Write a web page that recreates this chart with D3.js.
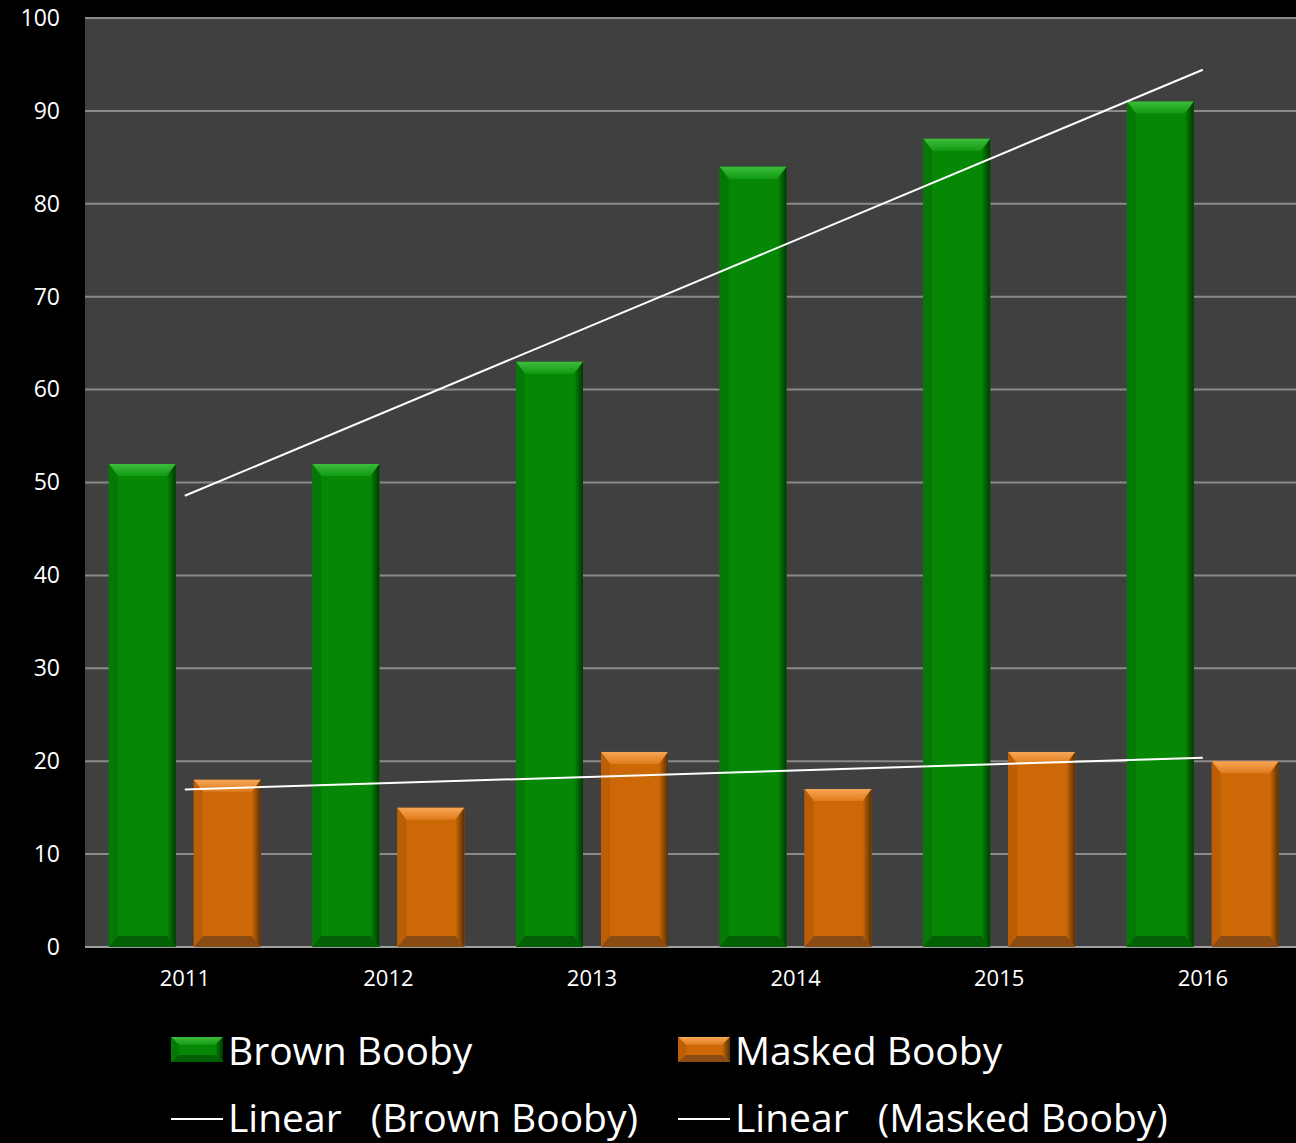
<!DOCTYPE html>
<html>
<head>
<meta charset="utf-8">
<script src="https://cdn.jsdelivr.net/npm/d3@7"></script>
<style>
  body { margin: 0; background: #000; overflow: hidden; }
  svg { display: block; }
</style>
</head>
<body>
<div id="chart"></div>
<script>
var width  = 1296;
var height = 1143;

// data
var years   = ["2011", "2012", "2013", "2014", "2015", "2016"];
var series  = ["Brown Booby", "Masked Booby"];
var brown   = [52, 52, 63, 84, 87, 91];
var masked  = [18, 15, 21, 17, 21, 20];
var yTicks  = [0, 10, 20, 30, 40, 50, 60, 70, 80, 90, 100];

var palette = {
  "Brown Booby":  { main: "#068806", top: "#3dbb3d", top2: "#129c12", left: "#057805", right: "#013801", bottom: "#046004" },
  "Masked Booby": { main: "#cd6806", top: "#f8a656", top2: "#df7c1c", left: "#bb5e06", right: "#573005", bottom: "#8a4c12" }
};

var plot = { left: 85, top: 18, bottom: 947 };
var bandStart = 83, step = 203.6;

var svg = d3.select("#chart").append("svg")
    .attr("width", width)
    .attr("height", height);

var x0 = d3.scaleBand().domain(years).range([bandStart, bandStart + step * years.length]);
var x1 = d3.scaleBand().domain(series).range([0, x0.bandwidth()])
    .paddingInner(0.2118).paddingOuter(0.3035);
var y = d3.scaleLinear().domain([0, 100]).range([plot.bottom, plot.top]);

// plot background
svg.append("rect")
  .attr("x", plot.left).attr("y", plot.top)
  .attr("width", width - plot.left).attr("height", plot.bottom - plot.top)
  .attr("fill", "#404040");

// gridlines
svg.append("g").selectAll("line").data(yTicks).enter().append("line")
  .attr("x1", plot.left).attr("x2", width)
  .attr("y1", function(d) { return y(d); }).attr("y2", function(d) { return y(d); })
  .attr("stroke", function(d) { return d === 0 ? "#a0a0a0" : "#8a8a8a"; })
  .attr("stroke-width", 2);

// y axis labels
var yAxis = d3.axisLeft(y).tickValues(yTicks).tickSize(0).tickPadding(0);
var gy = svg.append("g").attr("transform", "translate(60,0)").call(yAxis);
gy.select(".domain").remove();
gy.selectAll("text")
  .attr("fill", "#fff")
  .style("font-family", "'Open Sans', sans-serif")
  .style("font-size", "23px");

// x axis labels
var xAxis = d3.axisBottom(x0).tickSize(0).tickPadding(0);
var gx = svg.append("g").attr("transform", "translate(0," + (plot.bottom + 23) + ")").call(xAxis);
gx.select(".domain").remove();
gx.selectAll("text")
  .attr("fill", "#fff")
  .style("font-family", "'Open Sans', sans-serif")
  .style("font-size", "22px");

// beveled bar: main face plus four trapezoid edges
function bevelBar(g, bx, by, bw, bh, c, bt, bs, bb) {
  bt = Math.min(bt, bh / 2);
  g.append("rect").attr("x", bx).attr("y", by).attr("width", bw).attr("height", bh).attr("fill", c.main);
  g.append("polygon")
    .attr("points", [[bx, by], [bx + bw, by], [bx + bw - bs, by + bt], [bx + bs, by + bt]].join(" "))
    .attr("fill", "url(#top-" + c.id + ")");
  g.append("polygon")
    .attr("points", [[bx, by], [bx + bs, by + bt], [bx + bs, by + bh - bb], [bx, by + bh]].join(" "))
    .attr("fill", c.left);
  g.append("polygon")
    .attr("points", [[bx + bw, by], [bx + bw, by + bh], [bx + bw - bs, by + bh - bb], [bx + bw - bs, by + bt]].join(" "))
    .attr("fill", "url(#right-" + c.id + ")");
  g.append("polygon")
    .attr("points", [[bx, by + bh], [bx + bs, by + bh - bb], [bx + bw - bs, by + bh - bb], [bx + bw, by + bh]].join(" "))
    .attr("fill", c.bottom);
}

var defs = svg.append("defs");
series.forEach(function(s, i) {
  var c = palette[s];
  c.id = i;
  var gt = defs.append("linearGradient").attr("id", "top-" + i)
    .attr("x1", 0).attr("y1", 0).attr("x2", 0).attr("y2", 1);
  gt.append("stop").attr("offset", "0%").attr("stop-color", c.top);
  gt.append("stop").attr("offset", "100%").attr("stop-color", c.top2);
  var gr = defs.append("linearGradient").attr("id", "right-" + i)
    .attr("x1", 0).attr("y1", 0).attr("x2", 1).attr("y2", 0);
  gr.append("stop").attr("offset", "0%").attr("stop-color", c.main);
  gr.append("stop").attr("offset", "100%").attr("stop-color", c.right);
});

var values = { "Brown Booby": brown, "Masked Booby": masked };
var bars = svg.append("g");
series.forEach(function(s) {
  values[s].forEach(function(v, i) {
    var bx = x0(years[i]) + x1(s);
    bevelBar(bars, bx, y(v), x1.bandwidth(), y(0) - y(v), palette[s], 12, 9, 11);
  });
});

// linear trendlines (least squares over category index)
function trend(vals) {
  var n = vals.length, mx = (n + 1) / 2, my = d3.mean(vals), sxy = 0, sxx = 0;
  vals.forEach(function(v, i) { sxy += (i + 1 - mx) * (v - my); sxx += (i + 1 - mx) * (i + 1 - mx); });
  var b = sxy / sxx, a = my - b * mx;
  return [1, n].map(function(k) { return [k, a + b * k]; });
}
var line = d3.line()
  .x(function(d) { return x0(years[d[0] - 1]) + x0.bandwidth() / 2; })
  .y(function(d) { return y(d[1]); });
series.forEach(function(s) {
  svg.append("path").attr("d", line(trend(values[s])))
    .attr("fill", "none").attr("stroke", "#fff").attr("stroke-width", 2);
});

// legend
var legendX = [171, 678];
var leg = svg.append("g").style("font-family", "'Open Sans', sans-serif").style("font-size", "39px");
series.forEach(function(s, i) {
  var lx = legendX[i];
  var sw = leg.append("g");
  bevelBar(sw, lx, 1037, 52, 25, palette[s], 8, 8, 7);
  leg.append("text").attr("x", lx + 57).attr("y", 1065).attr("fill", "#fff").text(s);
  leg.append("line").attr("x1", lx).attr("x2", lx + 52).attr("y1", 1119).attr("y2", 1119)
    .attr("stroke", "#fff").attr("stroke-width", 2);
  var t = leg.append("text").attr("x", lx + 57).attr("y", 1132).attr("fill", "#fff");
  t.append("tspan").text("Linear");
  t.append("tspan").attr("dx", 29).text("(" + s + ")");
});
</script>
</body>
</html>
